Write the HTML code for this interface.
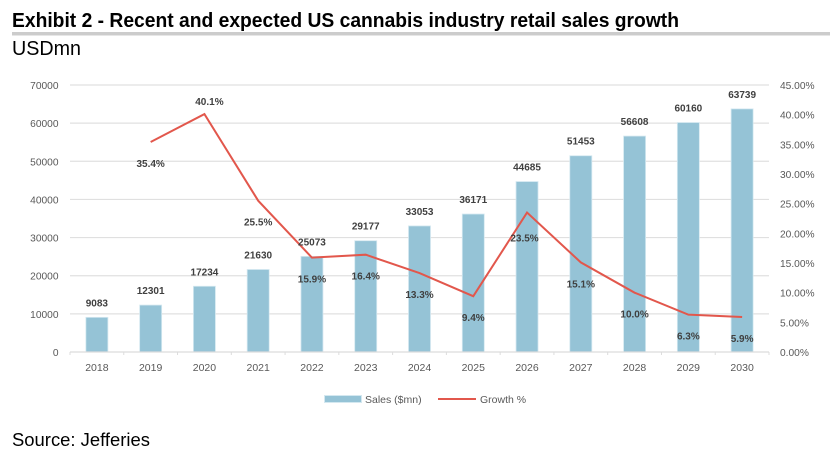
<!DOCTYPE html>
<html>
<head>
<meta charset="utf-8">
<style>
html,body{margin:0;padding:0;background:#fff;width:838px;height:469px;overflow:hidden}
svg{display:block}
text{font-family:"Liberation Sans",sans-serif}
</style>
</head>
<body>
<svg id="chart" width="838" height="469" viewBox="0 0 838 469" xmlns="http://www.w3.org/2000/svg">
  <rect x="0" y="0" width="838" height="469" fill="#fff"/>
  <text x="12" y="27" font-size="20" font-weight="700" fill="#000" textLength="667" lengthAdjust="spacingAndGlyphs">Exhibit 2 - Recent and expected US cannabis industry retail sales growth</text>
  <rect x="12" y="32" width="818" height="3.5" fill="#cccccc"/>
  <text x="12" y="55" font-size="20.5" fill="#000" textLength="69" lengthAdjust="spacingAndGlyphs">USDmn</text>
  <g id="grid"></g>
  <g id="bars"></g>
  <g id="axes"></g>
  <g id="line"></g>
  <g id="labels"></g>
  <g>
    <rect x="324.5" y="395.5" width="37" height="7" fill="#95c3d6" stroke="#d4e8f0" stroke-width="1"/>
    <text x="365" y="403" font-size="10.5" fill="#595959">Sales ($mn)</text>
    <line x1="438" y1="399" x2="476" y2="399" stroke="#e2574c" stroke-width="2"/>
    <text x="480" y="403" font-size="10.5" fill="#595959">Growth %</text>
  </g>
  <text x="12" y="446" font-size="18" fill="#000" textLength="138" lengthAdjust="spacingAndGlyphs">Source: Jefferies</text>
</svg>
<script>
const years = ['2018','2019','2020','2021','2022','2023','2024','2025','2026','2027','2028','2029','2030'];
const sales = [9083,12301,17234,21630,25073,29177,33053,36171,44685,51453,56608,60160,63739];
const growth = [null,35.4,40.1,25.5,15.9,16.4,13.3,9.4,23.5,15.1,10.0,6.3,5.9];
const salesTicks = [0,10000,20000,30000,40000,50000,60000,70000];
const growthTicks = [0,5,10,15,20,25,30,35,40,45];

const NS = 'http://www.w3.org/2000/svg';
const plotLeft = 70, plotRight = 769, plotTop = 85, plotBottom = 352;
const salesMax = Math.max(...salesTicks), growthMax = Math.max(...growthTicks);
const band = (plotRight - plotLeft) / years.length;
const xCenter = i => plotLeft + band * (i + 0.5);
const ySales = v => plotBottom - (v / salesMax) * (plotBottom - plotTop);
const yGrowth = v => plotBottom - (v / growthMax) * (plotBottom - plotTop);

function make(tag, attrs, parent, text) {
  const el = document.createElementNS(NS, tag);
  for (const k in attrs) el.setAttribute(k, attrs[k]);
  if (text !== undefined) el.textContent = text;
  document.getElementById(parent).appendChild(el);
  return el;
}

salesTicks.forEach(t => {
  if (t > 0) {
    const g = make('line', {x1: plotLeft, x2: plotRight, y1: ySales(t), y2: ySales(t), stroke: '#e0e0e0', 'stroke-width': 1.2}, 'grid');
    
    
  }
  const l = make('text', {x: 58.5, y: ySales(t) + 4, 'text-anchor': 'end', 'font-size': 10.2, fill: '#595959'}, 'axes', String(t));
  
  
});

growthTicks.forEach(t => {
  const l = make('text', {x: 780, y: yGrowth(t) + 4, 'font-size': 10.2, fill: '#595959'}, 'axes', t.toFixed(2) + '%');
  
  
});

const axis = make('line', {x1: plotLeft, x2: plotRight, y1: plotBottom, y2: plotBottom, stroke: '#dcdcdc', 'stroke-width': 1.2}, 'axes');



for (let i = 0; i <= years.length; i++) {
  const x = plotLeft + band * i;
  const tick = make('line', {x1: x, x2: x, y1: plotBottom, y2: plotBottom + 3, stroke: '#dcdcdc', 'stroke-width': 1}, 'axes');
  
  
}

years.forEach((y, i) => {
  const cx = xCenter(i);
  const bar = make('rect', {x: cx - 11, y: ySales(sales[i]), width: 22, height: plotBottom - ySales(sales[i]), fill: '#95c3d6', stroke: '#d4e8f0', 'stroke-width': 0.8}, 'bars');
  
  

  const xl = make('text', {x: cx, y: plotBottom + 19, 'text-anchor': 'middle', 'font-size': 10.5, fill: '#595959'}, 'axes', y);
  
  

  const sl = make('text', {x: cx, y: ySales(sales[i]) - 11, 'text-anchor': 'middle', 'font-size': 10, 'font-weight': 700, fill: '#404040'}, 'labels', String(sales[i]));
  
  
});

const growthPoints = growth.map((v, i) => v === null ? null : xCenter(i) + ',' + yGrowth(v)).filter(Boolean).join(' ');
const path = make('polyline', {points: growthPoints, fill: 'none', stroke: '#e2574c', 'stroke-width': 2, 'stroke-linejoin': 'miter'}, 'line');



const peak = Math.max(...growth.filter(v => v !== null));
const reboundIndex = growth.findIndex((v, i) => i > 1 && v !== null && growth[i - 1] !== null && v > growth[i - 1] + 5);
growth.forEach((v, i) => {
  if (v === null) return;
  let yPos = yGrowth(v) + 25;
  let xPos = xCenter(i);
  if (v === peak) {
    yPos = yGrowth(v) - 9;
    xPos += 5;
  } else if (i === reboundIndex) {
    yPos += 4;
    xPos -= 2.5;
  }
  const gl = make('text', {x: xPos, y: yPos, 'text-anchor': 'middle', 'font-size': 10, 'font-weight': 700, fill: '#404040'}, 'labels', v.toFixed(1) + '%');
  
  
});
</script>
</body>
</html>
